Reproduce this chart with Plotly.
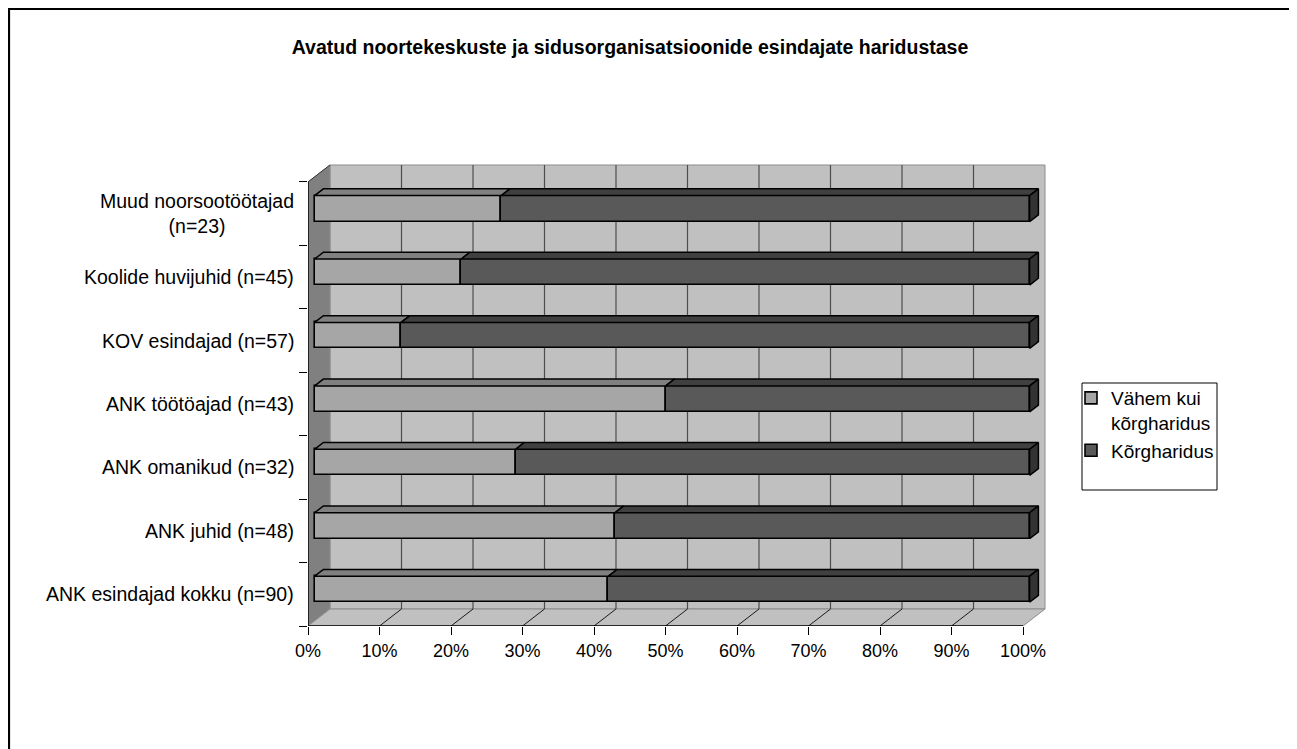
import plotly.graph_objects as go

# ---------------- data ----------------
title_text = "Avatud noortekeskuste ja sidusorganisatsioonide esindajate haridustase"
categories = [
    "ANK esindajad kokku (n=90)",
    "ANK juhid (n=48)",
    "ANK omanikud (n=32)",
    "ANK töötöajad (n=43)",
    "KOV esindajad (n=57)",
    "Koolide huvijuhid (n=45)",
    "Muud noorsootöötajad<br>(n=23)",
]
series_names = ["Vähem kui<br>kõrgharidus", "Kõrgharidus"]
vahem_kui_korgharidus = [41.1, 42.0, 28.1, 49.1, 12.1, 20.5, 26.1]
korgharidus = [58.9, 58.0, 71.9, 50.9, 87.9, 79.5, 73.9]
tick_values = [0, 10, 20, 30, 40, 50, 60, 70, 80, 90, 100]
tick_labels = ["0%", "10%", "20%", "30%", "40%", "50%", "60%", "70%", "80%", "90%", "100%"]

# ---------------- layout constants ----------------
W, H = 1297, 749
OFF = 8                                    # page body margin
# plot area in page pixels
PL, PR, PT, PB = 308, 1060, 150, 626
L, R, T, B = PL - OFF, PR - OFF, PT - OFF, PB - OFF
PX_X = 7.15                               # pixels per percent
PX_Y = 63.43                              # pixels per category
X_MAX = (R - L) / PX_X
Y_MIN = -0.5
Y_MAX = Y_MIN + (B - T) / PX_Y
DX = 22 / PX_X                            # full depth offset (data units)
DY = 17 / PX_Y
Z0, Z1 = 0.3, 0.7                         # bar depth (front / back)
HH = 0.205                                # half bar height (category units)
FONT = "Liberation Sans, Arial, sans-serif"
LABEL_SIZE = 19.5
LEGEND_SIZE = 19
TICK_SIZE = 18

LIGHT_FRONT, LIGHT_TOP = "#a6a6a6", "#808080"
DARK_FRONT, DARK_TOP, DARK_SIDE = "#595959", "#404040", "#333333"
WALL, SIDE_WALL = "#c0c0c0", "#808080"


def px_paper_x(px):
    return (px - OFF - L) / (R - L)


def px_paper_y(py):
    return (B - (py - OFF)) / (B - T)


fig = go.Figure()

ypos = list(range(len(categories)))
n_cat = len(categories)
xmax_val = tick_values[-1]

# ---------------- front faces (bars) ----------------
bases_light = [Z0 * DX for _ in ypos]
bases_dark = [Z0 * DX + v for v in vahem_kui_korgharidus]
yfront = [c + Z0 * DY for c in ypos]

fig.add_trace(go.Bar(
    orientation="h", y=yfront, x=vahem_kui_korgharidus, base=bases_light,
    width=2 * HH, name=series_names[0],
    marker=dict(color=LIGHT_FRONT, line=dict(color="black", width=1.6)),
    hoverinfo="skip",
))
fig.add_trace(go.Bar(
    orientation="h", y=yfront, x=korgharidus, base=bases_dark,
    width=2 * HH, name=series_names[1],
    marker=dict(color=DARK_FRONT, line=dict(color="black", width=1.6)),
    hoverinfo="skip",
))


# ---------------- top faces ----------------
def top_faces(starts, lengths):
    xs, ys = [], []
    for c, a, ln in zip(ypos, starts, lengths):
        b = a + ln
        yt0 = c + HH + Z0 * DY
        yt1 = c + HH + Z1 * DY
        xs += [a + Z0 * DX, b + Z0 * DX, b + Z1 * DX, a + Z1 * DX, a + Z0 * DX, None]
        ys += [yt0, yt0, yt1, yt1, yt0, None]
    return xs, ys


starts_light = [0 for _ in ypos]
xs, ys = top_faces(starts_light, vahem_kui_korgharidus)
fig.add_trace(go.Scatter(x=xs, y=ys, mode="lines", fill="toself", fillcolor=LIGHT_TOP,
                         line=dict(color="black", width=1.5), showlegend=False, hoverinfo="skip"))
xs, ys = top_faces(vahem_kui_korgharidus, korgharidus)
fig.add_trace(go.Scatter(x=xs, y=ys, mode="lines", fill="toself", fillcolor=DARK_TOP,
                         line=dict(color="black", width=1.5), showlegend=False, hoverinfo="skip"))

# ---------------- right end faces ----------------
xs, ys = [], []
for c, a, ln in zip(ypos, vahem_kui_korgharidus, korgharidus):
    b = a + ln
    xs += [b + Z0 * DX, b + Z0 * DX, b + Z1 * DX, b + Z1 * DX, b + Z0 * DX, None]
    ys += [c - HH + Z0 * DY, c + HH + Z0 * DY, c + HH + Z1 * DY, c - HH + Z1 * DY, c - HH + Z0 * DY, None]
fig.add_trace(go.Scatter(x=xs, y=ys, mode="lines", fill="toself", fillcolor=DARK_SIDE,
                         line=dict(color="black", width=1.5), showlegend=False, hoverinfo="skip"))

# ---------------- walls, floor, gridlines ----------------
yb, yt = Y_MIN, Y_MIN + n_cat
shapes = []


def poly(pts):
    return "M " + " L ".join(f"{x},{y}" for x, y in pts) + " Z"


# back wall
shapes.append(dict(type="path", xref="x", yref="y", layer="below",
                   path=poly([(DX, yb + DY), (xmax_val + DX, yb + DY), (xmax_val + DX, yt + DY), (DX, yt + DY)]),
                   fillcolor=WALL, line=dict(color="#8c8c8c", width=1)))
# side wall
shapes.append(dict(type="path", xref="x", yref="y", layer="below",
                   path=poly([(0, yb), (0, yt), (DX, yt + DY), (DX, yb + DY)]),
                   fillcolor=SIDE_WALL, line=dict(color="#8c8c8c", width=1)))
# floor
shapes.append(dict(type="path", xref="x", yref="y", layer="below",
                   path=poly([(0, yb), (xmax_val, yb), (xmax_val + DX, yb + DY), (DX, yb + DY)]),
                   fillcolor=WALL, line=dict(color="#8c8c8c", width=1)))
# gridlines on back wall and floor
for v in tick_values[1:-1]:
    shapes.append(dict(type="line", xref="x", yref="y", layer="below",
                       x0=v + DX, x1=v + DX, y0=yb + DY, y1=yt + DY,
                       line=dict(color="#4d4d4d", width=1.2)))
for v in tick_values[1:-1]:
    shapes.append(dict(type="line", xref="x", yref="y", layer="below",
                       x0=v, x1=v + DX, y0=yb, y1=yb + DY,
                       line=dict(color="#1a1a1a", width=1)))
# axis lines
shapes.append(dict(type="line", xref="x", yref="y", x0=0, x1=xmax_val, y0=yb, y1=yb,
                   line=dict(color="black", width=1.5)))
shapes.append(dict(type="line", xref="x", yref="y", x0=0, x1=0, y0=yb, y1=yt,
                   line=dict(color="black", width=1.5)))
shapes.append(dict(type="line", xref="x", yref="y", x0=0, x1=DX, y0=yt, y1=yt + DY,
                   line=dict(color="#333333", width=1)))
# legend box
shapes.append(dict(type="rect", xref="paper", yref="paper",
                   x0=px_paper_x(1082), x1=px_paper_x(1217), y0=px_paper_y(490), y1=px_paper_y(383),
                   line=dict(color="black", width=1), fillcolor="white", layer="below"))
# outer frame
shapes.append(dict(type="rect", xref="paper", yref="paper",
                   x0=px_paper_x(OFF + 1), x1=px_paper_x(1320), y0=px_paper_y(780), y1=px_paper_y(OFF + 1),
                   line=dict(color="black", width=2.2), fillcolor="rgba(0,0,0,0)"))

# ---------------- category labels ----------------
annotations = []
for c, name in zip(ypos, categories):
    annotations.append(dict(xref="paper", yref="y", x=px_paper_x(296), y=c, text=name,
                            showarrow=False, xanchor="right", yanchor="middle", align="center",
                            font=dict(family=FONT, size=LABEL_SIZE, color="black")))

fig.update_layout(
    width=W, height=H, autosize=False,
    margin=dict(l=L, r=W - R, t=T, b=H - B, pad=0),
    paper_bgcolor="white", plot_bgcolor="rgba(0,0,0,0)",
    barmode="overlay", bargap=0,
    title=dict(text=f"<b>{title_text}</b>", xref="container", yref="container",
               x=(630 - OFF) / W, y=1 - (47 - OFF) / H, xanchor="center", yanchor="middle",
               font=dict(family=FONT, size=LABEL_SIZE, color="black")),
    xaxis=dict(range=[0, X_MAX], tickmode="array", tickvals=tick_values, ticktext=tick_labels,
               ticks="outside", ticklen=8, tickcolor="black", tickwidth=1,
               showgrid=False, zeroline=False, showline=False,
               tickfont=dict(family=FONT, size=TICK_SIZE, color="black")),
    yaxis=dict(range=[Y_MIN, Y_MAX], showticklabels=False, ticks="", showgrid=False,
               zeroline=False, showline=False,
               minor=dict(tickmode="array", tickvals=[i - 0.5 for i in range(n_cat + 1)],
                          ticks="outside", ticklen=8, tickcolor="black", tickwidth=1, showgrid=False)),
    legend=dict(x=px_paper_x(1071), y=px_paper_y(379), xanchor="left", yanchor="top",
                bgcolor="rgba(0,0,0,0)", borderwidth=0, valign="top", traceorder="normal",
                font=dict(family=FONT, size=LEGEND_SIZE, color="black")),
    shapes=shapes,
    annotations=annotations,
    hovermode=False,
)

fig.write_html("out.html")
